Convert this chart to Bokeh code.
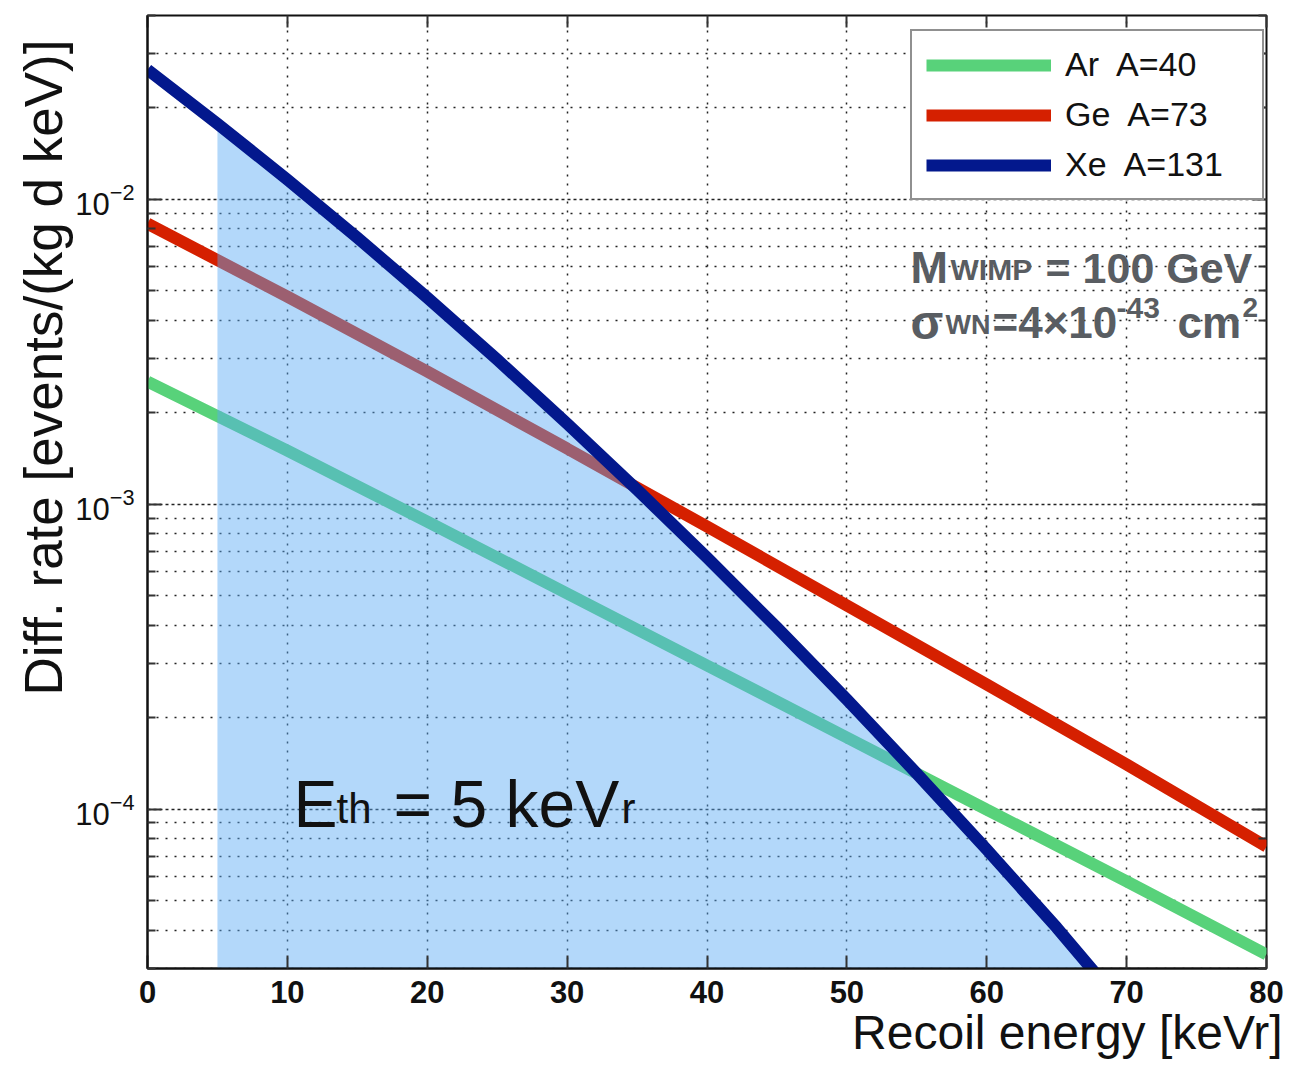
import numpy as np
from bokeh.plotting import figure
from bokeh.models import (Range1d, FixedTicker, LinearAxis, LogAxis, Label, Legend,
                          LegendItem, Title, LogTickFormatter)
from bokeh.embed import file_html
from bokeh.resources import INLINE

# ---------------- data ----------------
energy_ar = [0, 10, 20, 30, 40, 50, 60, 70, 80]
rate_ar = [2.521e-3, 1.497e-3, 8.76e-4, 5.09e-4, 2.955e-4, 1.716e-4, 9.96e-5, 5.79e-5, 3.334e-5]

energy_ge = [0, 10, 20, 30, 40, 50, 60, 70, 80]
rate_ge = [8.31e-3, 4.79e-3, 2.72e-3, 1.52e-3, 8.44e-4, 4.65e-4, 2.56e-4, 1.40e-4, 7.53e-5]

energy_xe = [0, 5, 10, 15, 20, 25, 30, 35, 40, 45, 50, 55, 60, 65, 68]
rate_xe = [2.658e-2, 1.768e-2, 1.158e-2, 7.477e-3, 4.754e-3, 2.977e-3, 1.836e-3, 1.115e-3,
           6.677e-4, 3.936e-4, 2.286e-4, 1.307e-4, 7.366e-5, 4.088e-5, 2.81e-5]

threshold = 5  # keVr
fill_floor = 1e-6

x_ticks = [0, 10, 20, 30, 40, 50, 60, 70, 80]
y_decades = [1e-4, 1e-3, 1e-2]
y_minor = [m * d for d in [1e-5, 1e-4, 1e-3, 1e-2] for m in range(2, 10)]

legend_labels = ["Ar  A=40", "Ge  A=73", "Xe  A=131"]
x_label = "Recoil energy [keVr]"
y_label = "Diff. rate [events/(kg d keV)]"

# ---------------- style ----------------
GREEN = "#58d27a"
RED = "#d52000"
NAVY = "#03188d"
FILL = "#5aaaf4"
GRAY = "#595d62"
INK = "#111111"
FONT = "Liberation Sans"

FRAME_L, FRAME_B = 147, 968  # picture px of the frame's left and bottom edges


def sx(a):
    return a - FRAME_L


def sy(a):
    return FRAME_B - a


p = figure(width=1284, height=1064,
           x_range=Range1d(0, 80), y_range=Range1d(3e-5, 0.04),
           y_axis_type="log", output_backend="svg", toolbar_location=None,
           min_border_left=147, min_border_right=18, min_border_top=15, min_border_bottom=96,
           background_fill_color="white", border_fill_color="white",
           outline_line_color=INK, outline_line_width=2)

# axes
xa = p.xaxis[0]
xa.ticker = FixedTicker(ticks=x_ticks)
xa.major_tick_in = 13
xa.major_tick_out = 0
xa.minor_tick_line_color = None
xa.axis_line_color = INK
xa.axis_line_width = 2
xa.major_tick_line_color = "#333333"
xa.major_tick_line_width = 2
xa.major_label_text_font = FONT
xa.major_label_text_font_size = "31px"
xa.major_label_text_font_style = "bold"
xa.major_label_text_color = INK
xa.major_label_standoff = 12

ya = p.yaxis[0]
ya.ticker = FixedTicker(ticks=y_decades, minor_ticks=y_minor)
ya.formatter = LogTickFormatter()
ya.major_tick_in = 14
ya.major_tick_out = 0
ya.minor_tick_in = 8
ya.minor_tick_out = 0
ya.axis_line_color = INK
ya.axis_line_width = 2
ya.major_tick_line_color = "#333333"
ya.major_tick_line_width = 2
ya.minor_tick_line_color = "#333333"
ya.minor_tick_line_width = 2
ya.major_label_text_font = FONT
ya.major_label_text_font_size = "31px"
ya.major_label_text_color = INK
ya.major_label_standoff = 13

top = LinearAxis(ticker=FixedTicker(ticks=x_ticks), major_tick_in=12, major_tick_out=0,
                 minor_tick_line_color=None, major_label_text_font_size="0px",
                 major_label_text_alpha=0, major_label_standoff=0, axis_line_color=None,
                 major_tick_line_color="#333333", major_tick_line_width=2)
p.add_layout(top, "above")
right = LogAxis(ticker=FixedTicker(ticks=y_decades, minor_ticks=y_minor),
                major_tick_in=14, major_tick_out=0, minor_tick_in=8, minor_tick_out=0,
                major_label_text_font_size="0px", major_label_text_alpha=0,
                major_label_standoff=0, axis_line_color=None,
                major_tick_line_color="#333333", major_tick_line_width=2,
                minor_tick_line_color="#333333", minor_tick_line_width=2)
p.add_layout(right, "right")

# axis titles
p.add_layout(Title(text=y_label, align="left", offset=273, standoff=0,
                   text_font=FONT, text_font_size="53px", text_font_style="normal",
                   text_color=INK), "left")
p.add_layout(Title(text=x_label, align="right", offset=-16, standoff=0, vertical_align="top",
                   text_font=FONT, text_font_size="48px", text_font_style="normal",
                   text_color=INK), "below")

# grid
p.xgrid.grid_line_color = "#222222"
p.xgrid.grid_line_dash = "2 7"
p.xgrid.grid_line_width = 1.5
p.ygrid.grid_line_color = "#222222"
p.ygrid.grid_line_dash = "3 3"
p.ygrid.grid_line_width = 1.5
p.ygrid.minor_grid_line_color = "#222222"
p.ygrid.minor_grid_line_dash = "2 7"
p.ygrid.minor_grid_line_width = 1.5

# curves
r_ar = p.line(energy_ar, rate_ar, line_width=12, line_color=GREEN)
r_ge = p.line(energy_ge, rate_ge, line_width=12, line_color=RED)

fill_x = [e for e in energy_xe if e >= threshold]
fill_y = [r for e, r in zip(energy_xe, rate_xe) if e >= threshold]
p.varea(x=fill_x, y1=[fill_floor] * len(fill_x), y2=fill_y, fill_color=FILL, fill_alpha=0.46)

r_xe = p.line(energy_xe, rate_xe, line_width=12, line_color=NAVY, line_join="round")

# legend
legend = Legend(items=[LegendItem(label=legend_labels[0], renderers=[r_ar]),
                       LegendItem(label=legend_labels[1], renderers=[r_ge]),
                       LegendItem(label=legend_labels[2], renderers=[r_xe])],
                location=(sx(910), sy(200)), margin=0, padding=14, spacing=11,
                glyph_width=125, glyph_height=34, label_height=34, label_width=183,
                label_standoff=14, label_text_font=FONT, label_text_font_size="34px",
                label_text_color=INK, border_line_color="#222222", border_line_width=2,
                background_fill_color="white", background_fill_alpha=1.0)
p.add_layout(legend)


def add_text(text, ax, ay, size, color=INK, style="normal", align="left"):
    p.add_layout(Label(x=sx(ax), y=sy(ay), x_units="screen", y_units="screen", text=text,
                       text_font=FONT, text_font_size=f"{size}px", text_font_style=style,
                       text_color=color, text_align=align, text_baseline="alphabetic"))


# WIMP parameters
add_text("M", 910, 267, 45, GRAY, "bold")
add_text("WIMP", 950, 269, 30, GRAY, "bold")
add_text("= 100 GeV", 1045, 267, 43, GRAY, "bold")
add_text("σ", 910, 322, 48, GRAY, "bold")
add_text("WN", 945, 324, 27, GRAY, "bold")
add_text("=4×10", 992, 322, 44, GRAY, "bold")
add_text("-43", 1116, 307, 30, GRAY, "bold")
add_text("cm", 1177, 322, 44, GRAY, "bold")
add_text("2", 1242, 307, 28, GRAY, "bold")

# threshold annotation
add_text("E", 293, 803, 66)
add_text("th", 336, 808, 42)
add_text("= 5 keV", 393, 803, 66)
add_text("r", 621, 808, 42)

open("out.html", "w").write(file_html(p, INLINE))
